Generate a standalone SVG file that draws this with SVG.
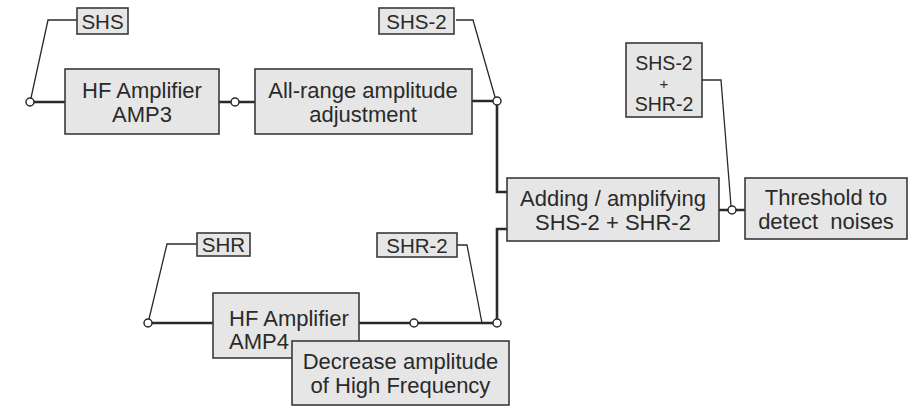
<svg xmlns="http://www.w3.org/2000/svg" width="915" height="406" viewBox="0 0 915 406">
<style>
.box{fill:#e6e6e6;stroke:#3a3a3a;stroke-width:1.6}
.t{font-family:"Liberation Sans",Arial,sans-serif;font-size:22px;fill:#2a2a2a;text-anchor:middle}
.tl{font-family:"Liberation Sans",Arial,sans-serif;font-size:20.5px;fill:#2a2a2a;text-anchor:middle}
.thick{fill:none;stroke:#2a2a2a;stroke-width:2.6}
.thin{fill:none;stroke:#2a2a2a;stroke-width:1.3}
.dot{fill:#fff;stroke:#2a2a2a;stroke-width:1.5}
</style>
<rect width="915" height="406" fill="#fff"/>
<g id="connectors">
<path class="thick" d="M34 102H65M219 102H231M239 102H255M472 101H493"/>
<path class="thick" d="M497 105V192H507M507 229H497V319"/>
<path class="thick" d="M152 323H213M359 323H410M418 323H493"/>
<path class="thick" d="M719 210H728M736 210H745"/>
<path class="thin" d="M77 20H48L31 98"/>
<path class="thin" d="M456 20H473L495 97"/>
<path class="thin" d="M702 80H721L731 206"/>
<path class="thin" d="M197 244H167L149 319"/>
<path class="thin" d="M457 245H467L482 323"/>
<circle class="dot" cx="30" cy="102" r="4"/>
<circle class="dot" cx="235" cy="102" r="4"/>
<circle class="dot" cx="497" cy="101" r="4"/>
<circle class="dot" cx="732" cy="210" r="4"/>
<circle class="dot" cx="148" cy="323" r="4"/>
<circle class="dot" cx="414" cy="323" r="4"/>
<circle class="dot" cx="497" cy="323" r="4"/>
</g>
<g id="label-shs"><rect class="box" x="77" y="8" width="51" height="26"/><text class="tl" x="102.5" y="28.5">SHS</text></g>
<g id="label-shs2"><rect class="box" x="379" y="8" width="75" height="26"/><text class="tl" x="416.5" y="28.5">SHS-2</text></g>
<g id="label-sum"><rect class="box" x="626" y="43" width="76" height="74"/><text class="tl" x="664" y="70" style="font-size:19.5px">SHS-2</text><text class="tl" x="664" y="88.5" style="font-size:15px">+</text><text class="tl" x="664" y="110.5" style="font-size:19.5px">SHR-2</text></g>
<g id="label-shr"><rect class="box" x="197" y="233" width="53" height="23"/><text class="tl" x="223.5" y="252">SHR</text></g>
<g id="label-shr2"><rect class="box" x="377" y="233" width="80" height="24"/><text class="tl" x="417" y="252.5">SHR-2</text></g>
<g id="amp3"><rect class="box" x="65" y="69" width="154" height="65"/><text class="t" x="142" y="98">HF Amplifier</text><text class="t" x="142" y="122">AMP3</text></g>
<g id="allrange"><rect class="box" x="255" y="69" width="217" height="65"/><text class="t" x="363" y="98">All-range amplitude</text><text class="t" x="363" y="122">adjustment</text></g>
<g id="adding"><rect class="box" x="507" y="178" width="212" height="63"/><text class="t" x="613" y="206">Adding / amplifying</text><text class="t" x="613" y="230">SHS-2 + SHR-2</text></g>
<g id="threshold"><rect class="box" x="745" y="178" width="162" height="61"/><text class="t" x="826" y="205">Threshold to</text><text class="t" x="826" y="229" style="white-space:pre">detect  noises</text></g>
<g id="amp4"><rect class="box" x="213" y="293" width="146" height="65"/><text class="t" x="229" y="326" style="text-anchor:start">HF Amplifier</text><text class="t" x="229" y="349" style="text-anchor:start">AMP4</text></g>
<g id="decrease"><rect class="box" x="292" y="341" width="217" height="64"/><text class="t" x="400.5" y="369">Decrease amplitude</text><text class="t" x="400.5" y="393">of High Frequency</text></g>
</svg>
